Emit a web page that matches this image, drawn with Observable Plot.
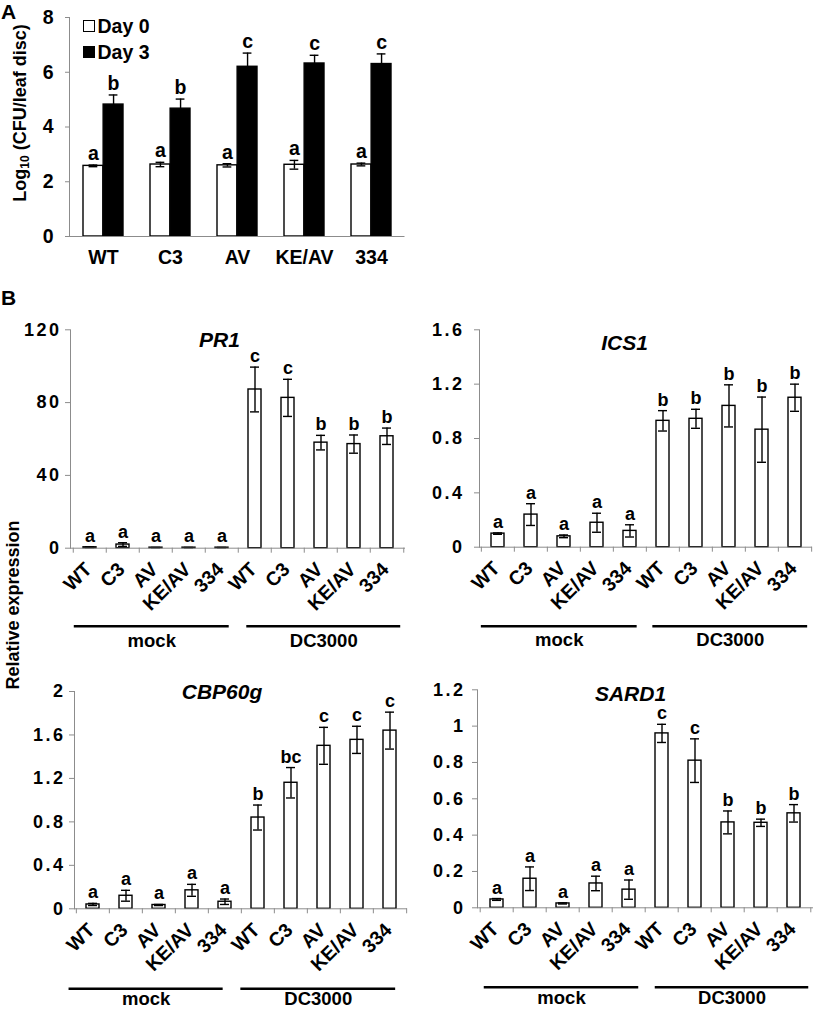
<!DOCTYPE html>
<html>
<head>
<meta charset="utf-8">
<script src="https://cdn.jsdelivr.net/npm/d3@7"></script>
<script src="https://cdn.jsdelivr.net/npm/@observablehq/plot@0.6"></script>
<style>
  body { margin: 0; background: #fff; }
  #fig { position: relative; width: 817px; height: 1009px; background: #fff; overflow: hidden;
         font-family: "Liberation Sans", Arial, Helvetica, sans-serif; font-weight: bold; color: #000; }
  #fig svg { position: absolute; overflow: visible; }
  #fig svg g[aria-label="y-axis tick"], #fig svg g[aria-label="x-axis tick"] { stroke: #8c8c8c; }
  #fig svg.pb g[aria-label="y-axis tick label"] text { letter-spacing: 2.5px; }
  .abs { position: absolute; white-space: nowrap; }
  .panel-letter { font-size: 21px; line-height: 21px; }
  .ylab { font-size: 18px; line-height: 18px; transform: translate(-50%, -50%) rotate(-90deg); }
  .ylab sub { font-size: 12px; vertical-align: -3px; line-height: 0; }
  .leg { font-size: 19.5px; line-height: 19px; display: flex; align-items: center; }
  .sw { width: 10px; height: 10px; border: 1.3px solid #000; margin-right: 3px; }
</style>
</head>
<body>
<div id="fig"></div>
<script>
// ---------------- data ----------------
const genotypes = ["WT", "C3", "AV", "KE/AV", "334"];
const treatments = ["mock", "DC3000"];

// Panel A : Log10 (CFU/leaf disc)
const day0Mean = [2.58, 2.63, 2.6, 2.62, 2.63];
const day0Err = [0.03, 0.08, 0.06, 0.16, 0.05];
const day0Letters = ["a", "a", "a", "a", "a"];
const day3Mean = [4.82, 4.67, 6.2, 6.32, 6.3];
const day3Err = [0.35, 0.35, 0.5, 0.3, 0.37];
const day3Letters = ["b", "b", "c", "c", "c"];
const yTicksA = [0, 2, 4, 6, 8];

// Panel B : relative expression (mock WT..334, then DC3000 WT..334)
const pr1Mean = [0.5, 2.0, 0.3, 0.3, 0.3, 87.2, 82.6, 58.0, 57.2, 61.5];
const pr1Err = [0.2, 1.0, 0.1, 0.1, 0.1, 12.3, 10.2, 4.0, 5.0, 4.5];
const pr1Letters = ["a", "a", "a", "a", "a", "c", "c", "b", "b", "b"];
const pr1Ticks = [0, 40, 80, 120];

const ics1Mean = [0.10, 0.24, 0.08, 0.18, 0.12, 0.93, 0.945, 1.04, 0.865, 1.10];
const ics1Err = [0.005, 0.08, 0.01, 0.07, 0.045, 0.075, 0.07, 0.155, 0.24, 0.10];
const ics1Letters = ["a", "a", "a", "a", "a", "b", "b", "b", "b", "b"];
const ics1Ticks = [0, 0.4, 0.8, 1.2, 1.6];

const cbpMean = [0.04, 0.12, 0.035, 0.17, 0.065, 0.84, 1.16, 1.50, 1.555, 1.64];
const cbpErr = [0.01, 0.05, 0.005, 0.055, 0.025, 0.115, 0.14, 0.17, 0.125, 0.17];
const cbpLetters = ["a", "a", "a", "a", "a", "b", "bc", "c", "c", "c"];
const cbpTicks = [0, 0.4, 0.8, 1.2, 1.6, 2];

const sardMean = [0.046, 0.16, 0.024, 0.134, 0.10, 0.96, 0.81, 0.47, 0.468, 0.52];
const sardErr = [0.005, 0.065, 0.003, 0.04, 0.053, 0.05, 0.12, 0.063, 0.02, 0.048];
const sardLetters = ["a", "a", "a", "a", "a", "c", "c", "b", "b", "b"];
const sardTicks = [0, 0.2, 0.4, 0.6, 0.8, 1, 1.2];

// ---------------- layout ----------------
const FONT = '"Liberation Sans", Arial, Helvetica, sans-serif';
const GRAY = "#8c8c8c";
const fig = document.getElementById("fig");
const plainFormat = d => String(d);

function place(el, left, top) {
  el.style.left = left + "px";
  el.style.top = top + "px";
  fig.appendChild(el);
}
function html(cls, inner, left, top) {
  const d = document.createElement("div");
  d.className = "abs " + cls;
  d.innerHTML = inner;
  place(d, left, top);
  return d;
}

// ---------------- Panel A ----------------
(function () {
  const W = 430, H = 275, ml = 69, mr = 25.5, mt = 17, mb = 39;
  const pi = 0.4, po = 0.2;
  const step = (W - ml - mr) / (genotypes.length - pi + 2 * po);
  const bw = step * (1 - pi);
  const q = bw / 4;
  const d0 = genotypes.map((g, i) => ({g, v: day0Mean[i], e: day0Err[i], t: day0Letters[i]}));
  const d3 = genotypes.map((g, i) => ({g, v: day3Mean[i], e: day3Err[i], t: day3Letters[i]}));
  const sw = 1.4, cap = 4.5;
  const svg = Plot.plot({
    width: W, height: H, marginLeft: ml, marginRight: mr, marginTop: mt, marginBottom: mb,
    style: {fontFamily: FONT, fontSize: "19.5px", fontWeight: "bold", background: "transparent", overflow: "visible", color: "#000"},
    x: {domain: genotypes, paddingInner: pi, paddingOuter: po, tickSize: 0, tickPadding: 13.5, label: null},
    y: {domain: [0, 8], ticks: yTicksA, tickSize: 4, tickPadding: 12, label: null, tickFormat: plainFormat},
    marks: [
      Plot.barY(d0, {x: "g", y: "v", fill: "white", stroke: "black", strokeWidth: sw, insetRight: bw / 2}),
      Plot.barY(d3, {x: "g", y: "v", fill: "black", stroke: "black", strokeWidth: sw, insetLeft: bw / 2}),
      Plot.ruleX(d0, {x: "g", y1: d => d.v - d.e, y2: d => d.v + d.e, dx: -q, stroke: "black", strokeWidth: sw}),
      Plot.tickY(d0, {x: "g", y: d => d.v + d.e, insetLeft: q - cap, insetRight: 3 * q - cap, stroke: "black", strokeWidth: sw}),
      Plot.tickY(d0, {x: "g", y: d => d.v - d.e, insetLeft: q - cap, insetRight: 3 * q - cap, stroke: "black", strokeWidth: sw}),
      Plot.ruleX(d3, {x: "g", y1: d => d.v - d.e, y2: d => d.v + d.e, dx: q, stroke: "black", strokeWidth: sw}),
      Plot.tickY(d3, {x: "g", y: d => d.v + d.e, insetLeft: 3 * q - cap, insetRight: q - cap, stroke: "black", strokeWidth: sw}),
      Plot.text(d0, {x: "g", y: d => d.v + d.e, text: "t", dx: -q, dy: -5, lineAnchor: "bottom", fontSize: 19.5}),
      Plot.text(d3, {x: "g", y: d => d.v + d.e, text: "t", dx: q, dy: -5, lineAnchor: "bottom", fontSize: 19.5}),
      Plot.frame({anchor: "left", stroke: GRAY}),
      Plot.ruleY([0], {stroke: GRAY})
    ]
  });
  place(svg, 0, 0);
})();

html("panel-letter", "A", 1, 1);
html("ylab", "Log<sub>10</sub> (CFU/leaf disc)", 19.5, 113);
html("leg", '<span class="sw" style="background:#fff"></span>Day 0', 82.5, 16.5);
html("leg", '<span class="sw" style="background:#000"></span>Day 3', 82.5, 42.5);

// ---------------- Panel B ----------------
html("panel-letter", "B", 1, 287);
html("ylab", "Relative expression", 13, 605);

const panelsB = [
  {name: "PR1", mean: pr1Mean, err: pr1Err, letters: pr1Letters, yMax: 120, ticks: pr1Ticks,
   left: 0, top: 300, W: 410, H: 360, ml: 70, mr: 5, mt: 29.3, mb: 112.3, tickPad: 4,
   lineDy: 78, labelDy: 98.5, lines: [[1, -9.5], [8.5, -3]], titleDx: 149, titleDy: 10.7},
  {name: "ICS1", mean: ics1Mean, err: ics1Err, letters: ics1Letters, yMax: 1.6, ticks: ics1Ticks,
   left: 410, top: 300, W: 407, H: 360, ml: 69, mr: 5, mt: 29.3, mb: 113.3, tickPad: 10,
   lineDy: 79, labelDy: 98.5, lines: [[0, -9.5], [6.5, -4]], titleDx: 145, titleDy: 13.7},
  {name: "CBP60g", mean: cbpMean, err: cbpErr, letters: cbpLetters, yMax: 2, ticks: cbpTicks,
   left: 0, top: 660, W: 410, H: 349, ml: 74, mr: 3, mt: 31, mb: 100.7, tickPad: 4,
   lineDy: 80, labelDy: 96.5, lines: [[-7.3, -18.5], [-0.5, -11]], titleDx: 147.5, titleDy: 1},
  {name: "SARD1", mean: sardMean, err: sardErr, letters: sardLetters, yMax: 1.2, ticks: sardTicks,
   left: 410, top: 660, W: 407, H: 349, ml: 67, mr: 4, mt: 29.3, mb: 101.7, tickPad: 7,
   lineDy: 79.4, labelDy: 96.5, lines: [[4, -7], [10, -2]], titleDx: 153, titleDy: 4.7}
];

function panelB(c) {
  const keys = treatments.flatMap(t => genotypes.map(g => t + "|" + g));
  const data = keys.map((k, i) => ({k, g: k.split("|")[1], v: c.mean[i], e: c.err[i], t: c.letters[i]}));
  const pi = 0.61, po = 0.305;
  const n = keys.length;
  const step = (c.W - c.ml - c.mr) / (n - pi + 2 * po);
  const bw = step * (1 - pi);
  const sw = 1.4, capInset = 2;
  const per = genotypes.length;
  const groupMarks = treatments.flatMap((t, gi) => {
    const first = keys[gi * per], last = keys[gi * per + per - 1], mid = keys[gi * per + Math.floor(per / 2)];
    const [a, b] = c.lines[gi];
    const insetLeft = a - po * step;
    const insetRight = -po * step - b;
    const stepStart = c.ml + gi * per * step;
    const stepEnd = stepStart + per * step;
    const lineCenter = ((stepStart + a) + (stepEnd + b)) / 2;
    const midCenter = c.ml + (gi * per + Math.floor(per / 2)) * step + po * step + bw / 2;
    const grp = [{t, first, last, mid}];
    return [
      Plot.ruleY(grp, {x1: "first", x2: "last", y: () => 0, dy: c.lineDy, insetLeft, insetRight, stroke: "black", strokeWidth: 2.6}),
      Plot.text(grp, {x: "mid", y: () => 0, text: "t", dy: c.labelDy, dx: lineCenter - midCenter, lineAnchor: "bottom", fontSize: 18.5})
    ];
  });
  const svg = Plot.plot({
    width: c.W, height: c.H, marginLeft: c.ml, marginRight: c.mr, marginTop: c.mt, marginBottom: c.mb,
    style: {fontFamily: FONT, fontSize: "18px", fontWeight: "bold", background: "transparent", overflow: "visible", color: "#000"},
    x: {domain: keys, paddingInner: pi, paddingOuter: po, axis: null},
    y: {domain: [0, c.yMax], ticks: c.ticks, tickSize: 5, tickPadding: c.tickPad, label: null, tickFormat: plainFormat},
    marks: [
      Plot.barY(data, {x: "k", y: "v", fill: "white", stroke: "black", strokeWidth: sw}),
      Plot.ruleX(data, {x: "k", y1: d => d.v - d.e, y2: d => d.v + d.e, stroke: "black", strokeWidth: sw}),
      Plot.tickY(data, {x: "k", y: d => d.v + d.e, inset: capInset, stroke: "black", strokeWidth: sw}),
      Plot.tickY(data, {x: "k", y: d => d.v - d.e, inset: capInset, stroke: "black", strokeWidth: sw}),
      Plot.text(data, {x: "k", y: d => d.v + d.e, text: "t", dy: -5, lineAnchor: "bottom", fontSize: 18}),
      Plot.frame({anchor: "left", stroke: GRAY}),
      Plot.ruleY([0], {stroke: GRAY}),
      Plot.axisX(keys, {tickSize: 5, tickFormat: () => "", dx: -step / 2}),
      Plot.axisX([keys[n - 1]], {tickSize: 5, tickFormat: () => "", dx: step / 2}),
      Plot.text(data, {x: "k", text: "g", frameAnchor: "bottom", rotate: -45, textAnchor: "end", lineAnchor: "middle", dx: -1.5, dy: 18, fontSize: 19.5}),
      Plot.text([c.name], {frameAnchor: "top-left", dx: c.titleDx, dy: c.titleDy, textAnchor: "middle", lineAnchor: "middle", fontSize: 21, fontStyle: "italic"}),
      ...groupMarks
    ]
  });
  svg.classList.add("pb");
  place(svg, c.left, c.top);
}

panelsB.forEach(panelB);
</script>
</body>
</html>
